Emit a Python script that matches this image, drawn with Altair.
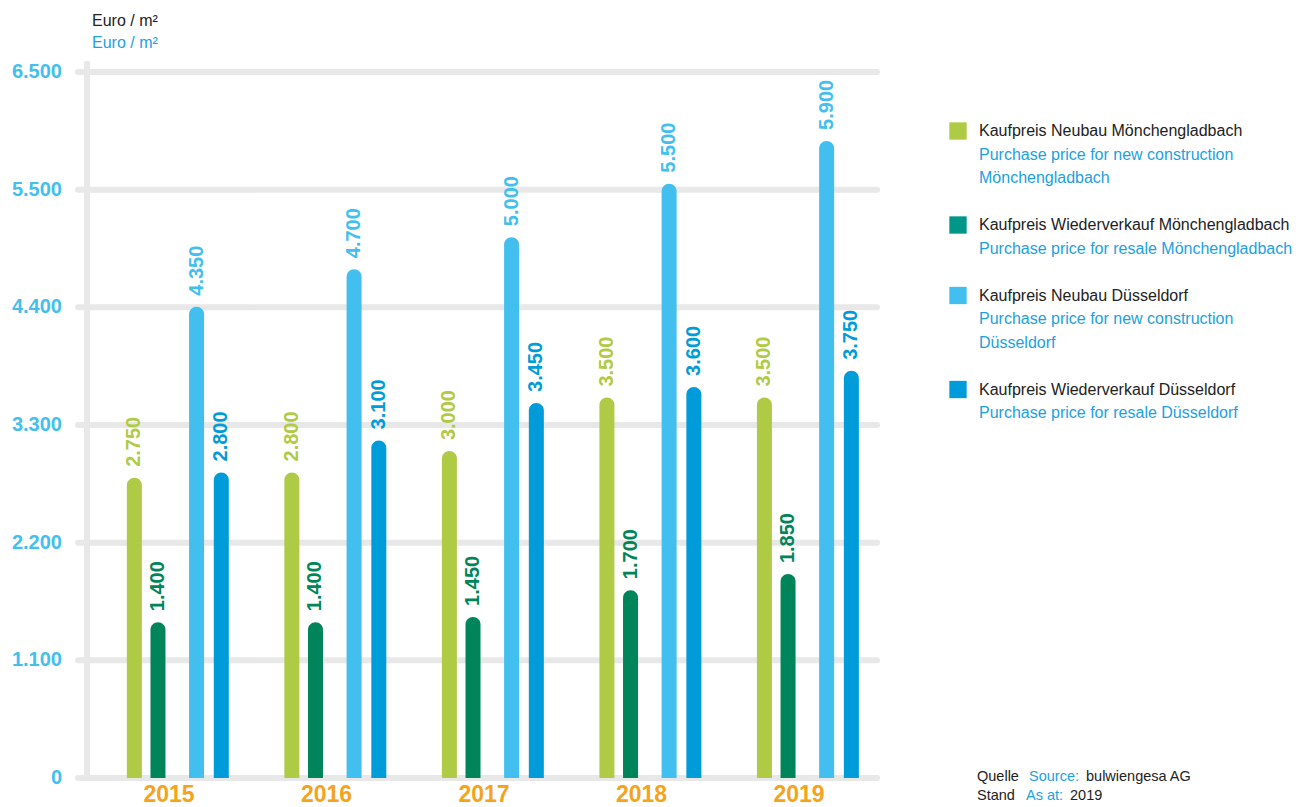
import altair as alt
import pandas as pd

# ---------------- data ----------------
years = ["2015", "2016", "2017", "2018", "2019"]
series_de = [
    "Kaufpreis Neubau Mönchengladbach",
    "Kaufpreis Wiederverkauf Mönchengladbach",
    "Kaufpreis Neubau Düsseldorf",
    "Kaufpreis Wiederverkauf Düsseldorf",
]
series_en = [
    ["Purchase price for new construction", "Mönchengladbach"],
    ["Purchase price for resale Mönchengladbach"],
    ["Purchase price for new construction", "Düsseldorf"],
    ["Purchase price for resale Düsseldorf"],
]
neubau_mg = [2750, 2800, 3000, 3500, 3500]
wieder_mg = [1400, 1400, 1450, 1700, 1850]
neubau_dus = [4350, 4700, 5000, 5500, 5900]
wieder_dus = [2800, 3100, 3450, 3600, 3750]
tick_values = [0, 1100, 2200, 3300, 4400, 5500, 6600]
tick_labels = ["0", "1.100", "2.200", "3.300", "4.400", "5.500", "6.500"]
unit_de = "Euro / m²"
unit_en = "Euro / m²"
source_line1 = [("Quelle", "de"), ("Source:", "en"), ("bulwiengesa AG", "de")]
source_line2 = [("Stand", "de"), ("As at:", "en"), ("2019", "de")]

# ---------------- style ----------------
FONT = "Liberation Sans"
bar_colors = ["#afca44", "#00855a", "#42bfef", "#009cd9"]
swatch_colors = ["#afca44", "#00968a", "#42bfef", "#009cd9"]
bar_offsets = [0.0, 0.15, 0.395, 0.552]       # position inside a year group (group units)
group_center = 0.22
TICK_BLUE = "#42bfef"
EN_BLUE = "#1ba1df"
DE_BLACK = "#222222"
ORANGE = "#f5a31b"
GRID = "#e8e8e8"
W, H = 805, 706

all_series = [neubau_mg, wieder_mg, neubau_dus, wieder_dus]
rows = []
for k, vals in enumerate(all_series):
    for i, v in enumerate(vals):
        rows.append({
            "year": years[i],
            "pos": i + bar_offsets[k],
            "series": series_de[k],
            "value": v,
            "label": f"{v:,}".replace(",", "."),
        })
bars_df = pd.DataFrame(rows)

xscale = alt.Scale(domain=[-0.345, 4.702], nice=False, zero=False)
yscale = alt.Scale(domain=[0, 6600], nice=False, zero=True)
cscale = alt.Scale(domain=series_de, range=bar_colors)

ticks_df = pd.DataFrame({"v": tick_values, "lab": tick_labels})

grid = alt.Chart(ticks_df).mark_rule(color=GRID, strokeWidth=6, strokeCap="round").encode(
    y=alt.Y("v:Q", scale=yscale, axis=None),
    x=alt.value(3), x2=alt.value(802),
)
vaxis = alt.Chart(ticks_df).mark_rule(color=GRID, strokeWidth=6, strokeCap="round").encode(
    x=alt.value(12), y=alt.value(-8), y2=alt.value(H),
)
tick_text = alt.Chart(ticks_df).mark_text(
    align="right", baseline="middle", font=FONT, fontSize=20, fontWeight="bold",
    color=TICK_BLUE,
).encode(
    y=alt.Y("v:Q", scale=yscale, axis=None),
    x=alt.value(-13),
    text="lab:N",
)

bars = alt.Chart(bars_df).mark_bar(
    size=15, cornerRadiusTopLeft=7.5, cornerRadiusTopRight=7.5, yOffset=-6, y2Offset=0,
).encode(
    x=alt.X("pos:Q", scale=xscale, axis=None),
    y=alt.Y("value:Q", scale=yscale, axis=None),
    y2=alt.datum(0),
    color=alt.Color("series:N", scale=cscale, legend=None),
)
value_text = alt.Chart(bars_df).mark_text(
    angle=270, align="left", baseline="middle", dx=17, font=FONT,
    fontSize=20, fontWeight="bold",
).encode(
    x=alt.X("pos:Q", scale=xscale, axis=None),
    y=alt.Y("value:Q", scale=yscale, axis=None),
    color=alt.Color("series:N", scale=cscale, legend=None),
    text="label:N",
)

years_df = pd.DataFrame({"year": years, "pos": [i + group_center for i in range(len(years))]})
year_text = alt.Chart(years_df).mark_text(
    baseline="middle", align="center", font=FONT, fontSize=23, fontWeight="bold", color=ORANGE,
).encode(
    x=alt.X("pos:Q", scale=xscale, axis=None),
    y=alt.value(723),
    text="year:N",
)

# ---------------- legend ----------------
LINE_H = 23.5
LEG_Y0 = 59
leg_lines, swatches = [], []
line_idx = 0
for k in range(len(series_de)):
    swatches.append({"py": LEG_Y0 + LINE_H * line_idx, "c": swatch_colors[k]})
    leg_lines.append({"t": series_de[k], "py": LEG_Y0 + LINE_H * line_idx, "c": DE_BLACK})
    line_idx += 1
    for ln in series_en[k]:
        leg_lines.append({"t": ln, "py": LEG_Y0 + LINE_H * line_idx, "c": EN_BLUE})
        line_idx += 1
    line_idx += 1
sw_df = pd.DataFrame(swatches)
ll_df = pd.DataFrame(leg_lines)

leg_sw = alt.Chart(sw_df).mark_square(size=300, opacity=1).encode(
    x=alt.value(883),
    y=alt.Y("py:Q", scale=None),
    color=alt.Color("c:N", scale=None),
)
leg_tx = alt.Chart(ll_df).mark_text(align="left", baseline="middle", font=FONT, fontSize=16).encode(
    x=alt.value(904),
    y=alt.Y("py:Q", scale=None),
    color=alt.Color("c:N", scale=None),
    text="t:N",
)

# ---------------- source ----------------
src_rows = []
for line, py, xs in ((source_line1, 705, [902, 954, 1011]), (source_line2, 724, [902, 951, 995])):
    for (t, lang), px in zip(line, xs):
        src_rows.append({"t": t, "px": px, "py": py, "c": EN_BLUE if lang == "en" else DE_BLACK})
src_df = pd.DataFrame(src_rows)
src_tx = alt.Chart(src_df).mark_text(align="left", baseline="middle", font=FONT, fontSize=14.5).encode(
    x=alt.X("px:Q", scale=None),
    y=alt.Y("py:Q", scale=None),
    color=alt.Color("c:N", scale=None),
    text="t:N",
)

unit_df = pd.DataFrame({"t": [unit_de, unit_en], "py": [-51, -29], "c": [DE_BLACK, EN_BLUE]})
unit_tx = alt.Chart(unit_df).mark_text(align="left", baseline="middle", font=FONT, fontSize=16).encode(
    x=alt.value(17),
    y=alt.Y("py:Q", scale=None),
    color=alt.Color("c:N", scale=None),
    text="t:N",
)

chart = alt.layer(
    grid, vaxis, tick_text, bars, value_text, year_text, leg_sw, leg_tx, src_tx, unit_tx
).resolve_scale(color="independent").properties(
    width=W, height=H,
    autosize=alt.AutoSizeParams(type="none"),
    padding={"left": 75, "top": 72, "right": 434, "bottom": 29},
    background="white",
).configure_view(stroke=None)

chart.save("out.html", embed_options={"renderer": "svg", "actions": False})
